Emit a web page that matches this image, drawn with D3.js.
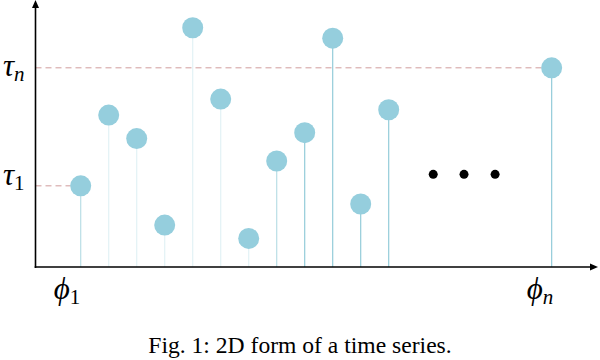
<!DOCTYPE html>
<html>
<head>
<meta charset="utf-8">
<script src="https://cdn.jsdelivr.net/npm/d3@7"></script>
<style>
  body { margin: 0; background: #fff; }
  svg { display: block; }
  .math { font-family: "Liberation Serif", "DejaVu Serif", serif; font-style: italic; fill: #000; }
  .caption { font-family: "Liberation Serif", serif; font-size: 23.6px; fill: #000; }
</style>
</head>
<body>
<svg id="chart" width="600" height="360"></svg>
<script>
// time positions of the samples (phi) and their values (tau)
const steps = [1, 2, 3, 4, 5, 6, 7, 8, 9, 10, 11, 12, 17.82];
const values = [30.4, 56.9, 48.1, 15.7, 89.6, 62.9, 10.7, 39.7, 50.3, 85.7, 23.6, 58.9, 74.6];
const ellipsis = [13.59, 14.69, 15.8];
const ellipsisLevel = 34.7;
const caption = 'Fig. 1: 2D form of a time series.';

const width = 600, height = 360;
const svg = d3.select('#chart');

const originX = 35.5, originY = 267;
const x = d3.scaleLinear().domain([0, 1]).range([52.7, 80.7]);
const y = d3.scaleLinear().domain([0, 100]).range([originY, 0]);

const blue = '#95cedd';
const stemBlue = '#8cc8d6';
const dashRed = '#d09c9c';

// guide lines for tau_1 and tau_n
const first = 0, last = values.length - 1;
svg.append('line')
  .attr('x1', originX).attr('x2', x(steps[first]) - 10)
  .attr('y1', y(values[first])).attr('y2', y(values[first]))
  .attr('stroke', dashRed).attr('stroke-width', 1)
  .attr('stroke-dasharray', '6,4');
svg.append('line')
  .attr('x1', originX).attr('x2', x(steps[last]) - 10)
  .attr('y1', y(values[last])).attr('y2', y(values[last]))
  .attr('stroke', dashRed).attr('stroke-width', 1)
  .attr('stroke-dasharray', '6,4');

const pts = steps.map((s, i) => ({ s, v: values[i], i }));

// stems
svg.append('g').selectAll('line')
  .data(pts)
  .join('line')
  .attr('x1', d => x(d.s)).attr('x2', d => x(d.s))
  .attr('y1', d => y(d.v)).attr('y2', originY)
  .attr('stroke', stemBlue)
  .attr('stroke-width', 1.2)
  .attr('stroke-opacity', d => (d.i >= 1 && d.i <= 6) ? 0.25 : (d.i === 0 || d.i === 7) ? 0.6 : 0.95);

// points
svg.append('g').selectAll('circle')
  .data(pts)
  .join('circle')
  .attr('cx', d => x(d.s))
  .attr('cy', d => y(d.v))
  .attr('r', 10.5)
  .attr('fill', blue);

// ellipsis dots
svg.append('g').selectAll('circle')
  .data(ellipsis)
  .join('circle')
  .attr('cx', d => x(d))
  .attr('cy', y(ellipsisLevel))
  .attr('r', 4.5)
  .attr('fill', '#000');

// axes with arrow heads
svg.append('line')
  .attr('x1', originX).attr('x2', originX)
  .attr('y1', originY + 1).attr('y2', 6)
  .attr('stroke', '#000').attr('stroke-width', 1.6);
svg.append('path')
  .attr('d', `M${originX},0 L${originX - 3.5},8 L${originX + 3.5},8 Z`)
  .attr('fill', '#000');
svg.append('line')
  .attr('x1', originX - 0.8).attr('x2', 592)
  .attr('y1', originY).attr('y2', originY)
  .attr('stroke', '#000').attr('stroke-width', 1.6);
svg.append('path')
  .attr('d', `M598,${originY} L590,${originY - 3.5} L590,${originY + 3.5} Z`)
  .attr('fill', '#000');

// math labels
function mathLabel(px, py, main, sub) {
  const t = svg.append('text')
    .attr('class', 'math')
    .attr('x', px).attr('y', py)
    .style('font-size', '31px');
  t.append('tspan').text(main);
  t.append('tspan').attr('dy', 5)
    .style('font-size', '21px')
    .style('font-style', sub === '1' ? 'normal' : 'italic')
    .text(sub);
}

mathLabel(3, y(values[last]) + 8, 'τ', 'n');
mathLabel(3, y(values[first]) - 1, 'τ', '1');
mathLabel(x(steps[first]) - 27, 299, 'ϕ', '1');
mathLabel(x(steps[last]) - 25, 299, 'ϕ', 'n');

svg.append('text')
  .attr('class', 'caption')
  .attr('x', width / 2)
  .attr('y', 353)
  .attr('text-anchor', 'middle')
  .text(caption);
</script>
</body>
</html>
